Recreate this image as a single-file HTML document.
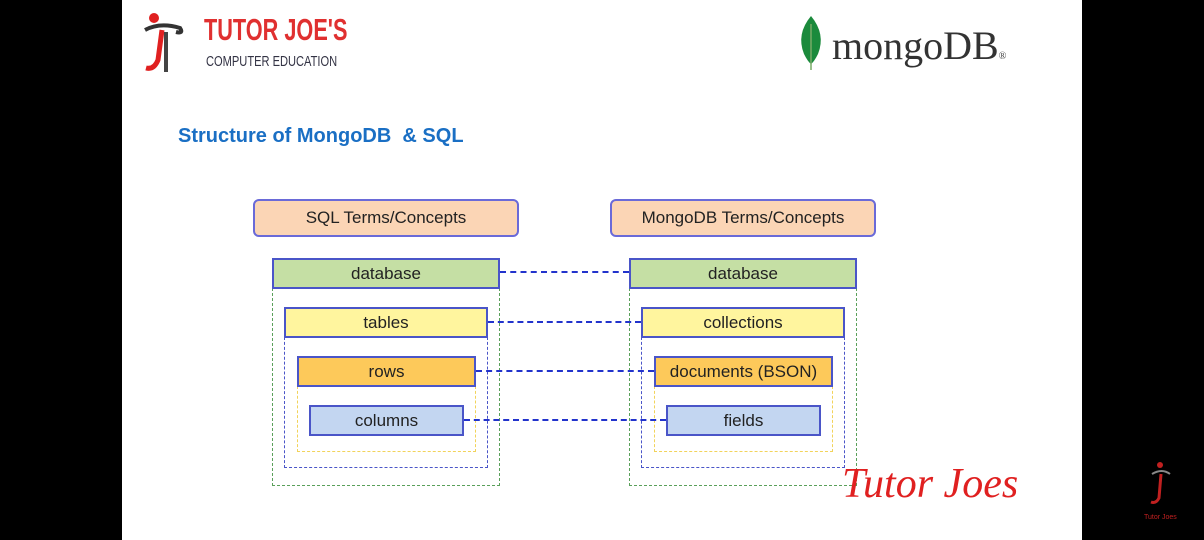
<!DOCTYPE html>
<html><head><style>
body{margin:0;width:1204px;height:540px;background:#000;position:relative;overflow:hidden;font-family:"Liberation Sans",sans-serif}
.slide{position:absolute;left:122px;top:0;width:960px;height:540px;background:#fff}
.a{position:absolute;box-sizing:border-box}
.box{position:absolute;box-sizing:border-box;border:2px solid #4a55c8;display:flex;align-items:center;justify-content:center;font-size:17px;color:#222}
.hd{border-radius:6px;background:#fbd5b5;border:2px solid #6a6ad8}
.g{background:#c5dfa4}.y{background:#fff59e}.o{background:#fdc95a}.b{background:#c3d6f1}
.dg{border:1.5px dashed #5aa05a;border-top:none}
.db{border:1.5px dashed #4a55c8;border-top:none}
.dy{border:1.5px dashed #f2d35a;border-top:none}
.ln{position:absolute;height:0;border-top:2.5px dashed #2233cc}
</style></head><body>
<div class="slide"></div>
<svg class="a" style="left:140px;top:10px" width="50" height="64" viewBox="0 0 50 64">
<circle cx="14" cy="8" r="5" fill="#e02020"/>
<path d="M5 20 Q20 12 40 18 Q44 24 36 22" stroke="#333" stroke-width="4" fill="none"/>
<path d="M22 20 L18 50 Q14 60 6 58" stroke="#e02020" stroke-width="5" fill="none"/>
<path d="M26 22 L26 62" stroke="#444" stroke-width="4" fill="none"/>
</svg>
<div class="a" style="left:204px;top:12px;font-size:31px;font-weight:bold;color:#e03030;transform:scaleX(0.7);transform-origin:left;white-space:nowrap">TUTOR JOE'S</div>
<div class="a" style="left:206px;top:53px;font-size:15px;color:#334;transform:scaleX(0.74);transform-origin:left;white-space:nowrap">COMPUTER EDUCATION</div>
<svg class="a" style="left:796px;top:14px" width="30" height="56" viewBox="0 0 30 56">
<path d="M15 2 Q30 20 22 40 Q18 48 15 50 Q12 48 8 40 Q0 20 15 2Z" fill="#1b8a3c"/><path d="M15 10 L15 56" stroke="#7a6" stroke-width="1.5"/></svg>
<div class="a" style="left:832px;top:22px;font-size:40px;color:#333;font-family:'Liberation Serif',serif">mongoDB<span style="font-size:10px">®</span></div>
<div class="a" style="left:178px;top:125px;font-size:20px;font-weight:bold;color:#1a6fc4">Structure of MongoDB &nbsp;&amp; SQL</div>

<div class="box hd" style="left:253px;top:199px;width:266px;height:38px">SQL Terms/Concepts</div>
<div class="box hd" style="left:610px;top:199px;width:266px;height:38px">MongoDB Terms/Concepts</div>

<div class="a dg" style="left:272px;top:288px;width:228px;height:198px"></div>
<div class="a db" style="left:284px;top:337px;width:204px;height:131px"></div>
<div class="a dy" style="left:297px;top:386px;width:179px;height:66px"></div>
<div class="box g" style="left:272px;top:258px;width:228px;height:31px">database</div>
<div class="box y" style="left:284px;top:307px;width:204px;height:31px">tables</div>
<div class="box o" style="left:297px;top:356px;width:179px;height:31px">rows</div>
<div class="box b" style="left:309px;top:405px;width:155px;height:31px">columns</div>

<div class="a dg" style="left:629px;top:288px;width:228px;height:198px"></div>
<div class="a db" style="left:641px;top:337px;width:204px;height:131px"></div>
<div class="a dy" style="left:654px;top:386px;width:179px;height:66px"></div>
<div class="box g" style="left:629px;top:258px;width:228px;height:31px">database</div>
<div class="box y" style="left:641px;top:307px;width:204px;height:31px">collections</div>
<div class="box o" style="left:654px;top:356px;width:179px;height:31px">documents (BSON)</div>
<div class="box b" style="left:666px;top:405px;width:155px;height:31px">fields</div>

<div class="ln" style="left:500px;top:271px;width:129px"></div>
<div class="ln" style="left:488px;top:321px;width:153px"></div>
<div class="ln" style="left:476px;top:370px;width:178px"></div>
<div class="ln" style="left:464px;top:419px;width:202px"></div>

<div class="a" style="left:842px;top:460px;font-size:42px;color:#e02020;font-style:italic;font-family:'Liberation Serif',serif">Tutor Joes</div>
<svg class="a" style="left:1148px;top:460px" width="24" height="50" viewBox="0 0 24 50">
<circle cx="12" cy="5" r="3" fill="#c02020"/><path d="M4 14 Q14 8 22 14" stroke="#888" stroke-width="2" fill="none"/><path d="M13 14 L11 38 Q8 44 3 42" stroke="#c02020" stroke-width="3" fill="none"/></svg>
<div class="a" style="left:1144px;top:514px;font-size:7px;color:#c02020">Tutor Joes</div>
</body></html>
